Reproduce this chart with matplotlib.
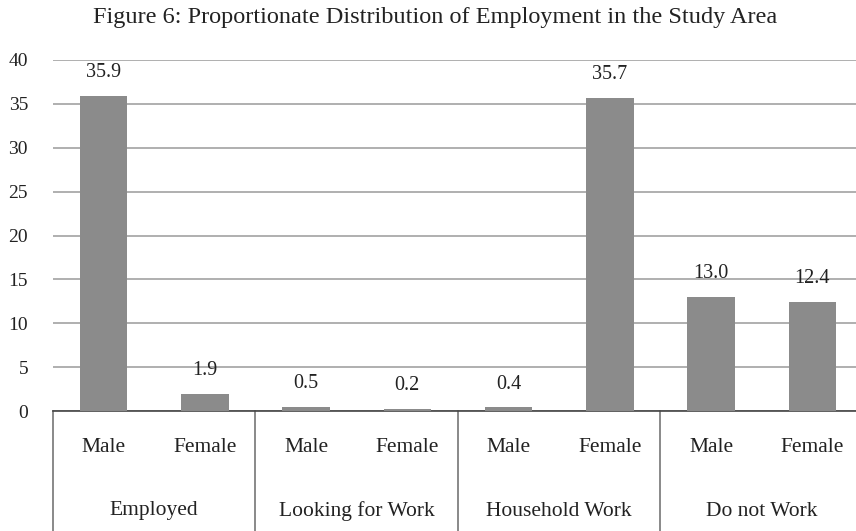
import matplotlib.pyplot as plt
import matplotlib.transforms as mtransforms

groups = ["Employed", "Looking for Work", "Household Work", "Do not Work"]
sexes = ["Male", "Female"]
values = [35.9, 1.9, 0.5, 0.2, 0.4, 35.7, 13.0, 12.4]
yticks = [0, 5, 10, 15, 20, 25, 30, 35, 40]

plt.rcParams["font.family"] = ["Liberation Serif", "DejaVu Serif"]
txt = "#222222"

fig = plt.figure(figsize=(8.56, 5.31), dpi=100)
W, H = 856, 531
left, right, top, bottom = 53, 863, 60, 411
ax = fig.add_axes([left / W, (H - bottom) / H, (right - left) / W, (bottom - top) / H])

n = len(values)
xs = [i + 0.5 for i in range(n)]
ax.bar(xs, values, width=0.47, color="#8b8b8b", zorder=3)

for x, v in zip(xs, values):
    ax.annotate(f"{v:.1f}", (x, v), xytext=(0, 10), textcoords="offset points",
                ha="center", va="bottom", fontsize=14.5, color=txt)

ax.set_xlim(0, n)
ax.set_ylim(0, 40)
ax.set_yticks(yticks)
ax.set_xticks([])
ax.tick_params(axis="y", length=0, pad=18, labelsize=14, labelcolor=txt)
ax.yaxis.grid(True, color="#9a9a9a", linewidth=1.1, zorder=0)
for s in ["top", "right", "left"]:
    ax.spines[s].set_visible(False)
ax.spines["bottom"].set_color("#444444")
ax.spines["bottom"].set_linewidth(1.2)

# category table under the axis
tr = mtransforms.blended_transform_factory(ax.transData, fig.transFigure)
for gx in range(0, n, 2):
    ax.plot([gx, gx], [(H - bottom) / H, 0], transform=tr, color="#6a6a6a",
            linewidth=1.1, clip_on=False)
for i, x in enumerate(xs):
    ax.text(x, (H - 448) / H, sexes[i % 2], transform=tr, ha="center", va="center",
            fontsize=15.5, color=txt)
for g, name in enumerate(groups):
    ax.text(2 * g + 1, (H - 511) / H, name, transform=tr, ha="center", va="center",
            fontsize=15.5, color=txt)

fig.text(435 / W, (H - 18) / H, "Figure 6: Proportionate Distribution of Employment in the Study Area",
         ha="center", va="center", fontsize=17.5, color=txt)

fig.savefig("out.png", dpi=100, facecolor="white")
